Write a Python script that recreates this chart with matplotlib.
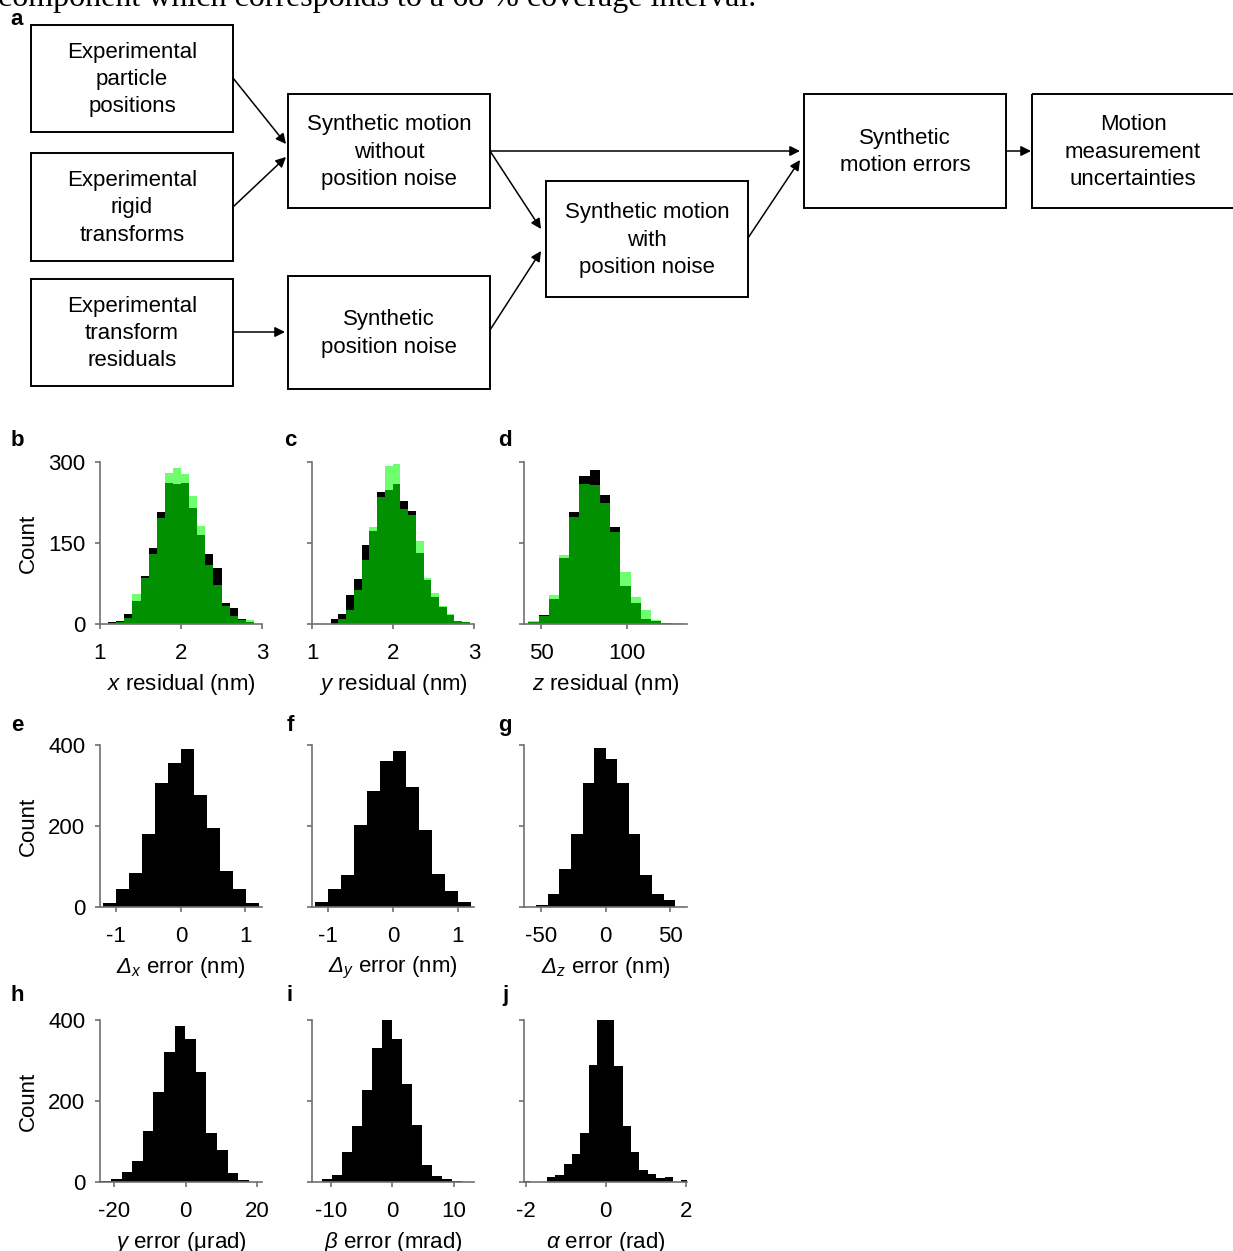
import matplotlib
matplotlib.use("Agg")
import matplotlib.pyplot as plt
from matplotlib.patches import Rectangle
import numpy as np

plt.rcParams['font.family'] = ['Liberation Sans', 'DejaVu Sans']
plt.rcParams['font.size'] = 16
plt.rcParams['axes.unicode_minus'] = False
# italic sans for the symbols in the axis labels
plt.rcParams['mathtext.fontset'] = 'custom'
plt.rcParams['mathtext.rm'] = 'Liberation Sans:italic'
plt.rcParams['mathtext.it'] = 'Liberation Sans:italic'

# residual histograms: experimental (black) vs synthetic (green), same bins
XRES_RANGE = (1.1, 2.9)
XRES_EXP = [3, 6, 18, 42, 89, 141, 208, 262, 260, 262, 214, 164, 129, 104, 38, 29, 9, 4]
XRES_SYN = [1, 4, 12, 55, 86, 129, 196, 280, 288, 278, 237, 182, 110, 73, 34, 15, 7, 7]

YRES_RANGE = (1.23, 2.95)
YRES_EXP = [9, 18, 53, 84, 147, 172, 244, 248, 259, 228, 210, 132, 81, 50, 31, 17, 6, 3]
YRES_SYN = [0, 9, 26, 63, 119, 180, 235, 293, 296, 213, 201, 154, 86, 57, 34, 18, 6, 4]

ZRES_RANGE = (42.6, 132.2)
ZRES_EXP = [3, 16, 46, 123, 208, 274, 286, 239, 179, 71, 38, 9, 5, 1, 0]
ZRES_SYN = [5, 15, 53, 127, 198, 260, 257, 225, 170, 96, 50, 26, 7, 2, 1]

# motion error histograms
DX_RANGE = (-1.21, 1.21)
DX_ERR = [11, 44, 85, 180, 305, 355, 390, 276, 195, 89, 44, 11]

DY_RANGE = (-1.2, 1.2)
DY_ERR = [12, 45, 78, 203, 286, 360, 385, 296, 189, 81, 40, 12]

DZ_RANGE = (-54, 54)
DZ_ERR = [4, 32, 93, 180, 305, 393, 365, 305, 180, 80, 31, 17]

GAMMA_RANGE = (-23.8, 17.6)
GAMMA_ERR = [3, 8, 24, 51, 125, 223, 322, 384, 354, 271, 120, 80, 22, 6]

BETA_RANGE = (-11.36, 11.3)
BETA_ERR = [7, 17, 73, 139, 227, 332, 400, 354, 243, 141, 41, 16, 7, 2]

ALPHA_RANGE = (-2.1, 2.1)
ALPHA_ERR = [3, 1, 1, 12, 17, 45, 70, 122, 288, 400, 400, 286, 138, 73, 29, 19, 11, 12, 0, 4]

W, H = 1233, 1251
fig = plt.figure(figsize=(W / 100, H / 100), dpi=100)

# ---- flow chart, drawn in pixel coordinates on an overlay axes ----
fc = fig.add_axes([0, 0, 1, 1])
fc.set_xlim(0, W)
fc.set_ylim(H, 0)
fc.axis('off')

boxes = [
    ((31, 25, 233, 132), "Experimental\nparticle\npositions"),
    ((31, 153, 233, 261), "Experimental\nrigid\ntransforms"),
    ((31, 279, 233, 386), "Experimental\ntransform\nresiduals"),
    ((288, 94, 490, 208), "Synthetic motion\nwithout\nposition noise"),
    ((288, 276, 490, 389), "Synthetic\nposition noise"),
    ((546, 181, 748, 297), "Synthetic motion\nwith\nposition noise"),
    ((804, 94, 1006, 208), "Synthetic\nmotion errors"),
    ((1032, 94, 1245, 208), "Motion\nmeasurement\nuncertainties"),
]
for (x0, y0, x1, y1), label in boxes:
    fc.add_patch(Rectangle((x0, y0), x1 - x0, y1 - y0, fill=False,
                           ec='black', lw=1.4))
    # the last box runs past the right edge; its text sits at 1133
    cx = (x0 + x1) / 2 if x1 < 1240 else 1133
    fc.text(cx, (y0 + y1) / 2 + 1, label, ha='center', va='center',
            fontsize=16, linespacing=1.4)

arrows = [
    ((233, 78), (286, 144)),
    ((233, 207), (286, 157)),
    ((233, 332), (285, 332)),
    ((490, 151), (800, 151)),
    ((490, 151), (541, 229)),
    ((490, 330), (541, 251)),
    ((748, 238), (800, 160)),
    ((1006, 151), (1031, 151)),
]
for start, end in arrows:
    fc.annotate('', xy=end, xytext=start,
                arrowprops=dict(arrowstyle='-|>', color='black', lw=1.1,
                                mutation_scale=15, shrinkA=0, shrinkB=0))

fig.text(-0.002, 1 - 6 / H,
         "component which corresponds to a 68 % coverage interval.",
         family='Liberation Serif', fontsize=23, ha='left', va='baseline')

# ---- histograms ----
SPINE = '#707070'


def px_axes(x0, y0, x1, y1):
    return fig.add_axes([x0 / W, 1 - y1 / H, (x1 - x0) / W, (y1 - y0) / H])


def hist_panel(rect, rng, counts, xlim, xticks, ylim, yticks, xlabel,
               show_y, green=None):
    ax = px_axes(*rect)
    edges = np.linspace(rng[0], rng[1], len(counts) + 1)
    ax.stairs(counts, edges, fill=True, color='black', lw=0)
    if green is not None:
        ax.stairs(green, edges, fill=True, color=(0.0, 1.0, 0.0),
                  alpha=0.57, lw=0)
    ax.set_xlim(*xlim)
    ax.set_ylim(*ylim)
    ax.set_xticks(xticks)
    ax.set_xticklabels([str(t) for t in xticks])
    ax.set_yticks(yticks)
    if show_y:
        ax.set_yticklabels([str(t) for t in yticks])
        ax.set_ylabel('Count', labelpad=7)
    else:
        ax.set_yticklabels([])
    ax.set_xlabel(xlabel, labelpad=5.5)
    for side in ('top', 'right'):
        ax.spines[side].set_visible(False)
    for side in ('left', 'bottom'):
        ax.spines[side].set_color(SPINE)
        ax.spines[side].set_linewidth(1.2)
    ax.tick_params(axis='x', direction='out', length=3.5, width=1.2,
                   color=SPINE, pad=10.5, labelsize=16)
    ax.tick_params(axis='y', direction='out', length=3.5, width=1.2,
                   color=SPINE, pad=7, labelsize=16)
    ax.patch.set_alpha(0)
    return ax


COLS = [(100, 262), (312, 474), (524, 687)]
ROWS = [(462, 624), (745, 907), (1020, 1182)]


def rect(r, c):
    return (COLS[c][0], ROWS[r][0], COLS[c][1], ROWS[r][1])


hist_panel(rect(0, 0), XRES_RANGE, XRES_EXP, (1, 3), [1, 2, 3], (0, 300),
           [0, 150, 300], '$x$ residual (nm)', True, XRES_SYN)
hist_panel(rect(0, 1), YRES_RANGE, YRES_EXP, (1, 3), [1, 2, 3], (0, 300),
           [0, 150, 300], '$y$ residual (nm)', False, YRES_SYN)
hist_panel(rect(0, 2), ZRES_RANGE, ZRES_EXP, (40.1, 135.2), [50, 100], (0, 300),
           [0, 150, 300], '$z$ residual (nm)', False, ZRES_SYN)

hist_panel(rect(1, 0), DX_RANGE, DX_ERR, (-1.255, 1.26), [-1, 0, 1], (0, 400),
           [0, 200, 400], r'$\Delta_x$ error (nm)', True)
hist_panel(rect(1, 1), DY_RANGE, DY_ERR, (-1.25, 1.25), [-1, 0, 1], (0, 400),
           [0, 200, 400], r'$\Delta_y$ error (nm)', False)
hist_panel(rect(1, 2), DZ_RANGE, DZ_ERR, (-63.5, 63.2), [-50, 0, 50], (0, 400),
           [0, 200, 400], r'$\Delta_z$ error (nm)', False)

hist_panel(rect(2, 0), GAMMA_RANGE, GAMMA_ERR, (-23.9, 21.3), [-20, 0, 20],
           (0, 400), [0, 200, 400], r'$\gamma$ error (μrad)', True)
hist_panel(rect(2, 1), BETA_RANGE, BETA_ERR, (-13.05, 13.3), [-10, 0, 10],
           (0, 400), [0, 200, 400], r'$\beta$ error (mrad)', False)
hist_panel(rect(2, 2), ALPHA_RANGE, ALPHA_ERR, (-2.04, 2.03), [-2, 0, 2],
           (0, 400), [0, 200, 400], r'$\alpha$ error (rad)', False)

# panel letters
letters = [('a', 17, 25),
           ('b', 17, 446), ('c', 290, 446), ('d', 505, 446),
           ('e', 17, 731), ('f', 290, 731), ('g', 505, 731),
           ('h', 17, 1001), ('i', 290, 1001), ('j', 505, 1001)]
for s, x, y in letters:
    fig.text(x / W, 1 - y / H, s, fontsize=16, fontweight='bold',
             ha='center', va='baseline')

fig.savefig('out.png', dpi=100)
